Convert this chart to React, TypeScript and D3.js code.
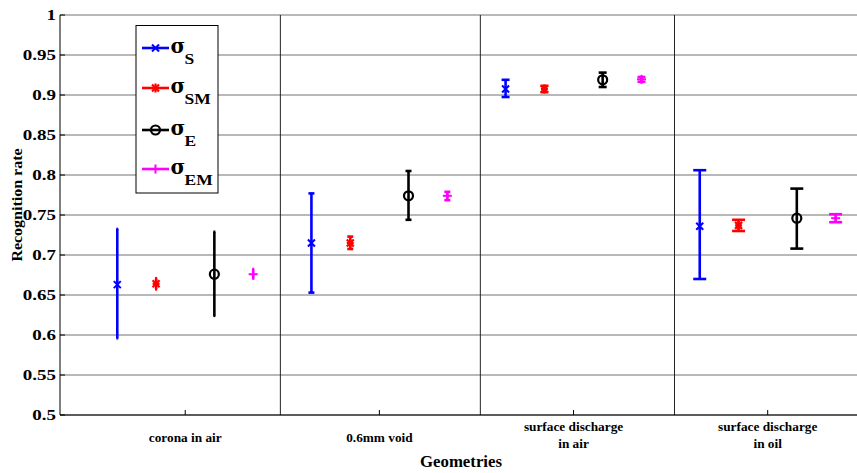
import React from "react";
import * as d3 from "d3";

const categories = ["corona in air", "0.6mm void", "surface discharge\nin air", "surface discharge\nin oil"];
const yTicks = [0.5, 0.55, 0.6, 0.65, 0.7, 0.75, 0.8, 0.85, 0.9, 0.95, 1];
const separators = [1.49, 2.52, 3.52];

const seriesNames = ["S", "SM", "E", "EM"];
const sMean = [0.663, 0.715, 0.9075, 0.736];
const sLow = [0.596, 0.653, 0.8975, 0.67];
const sHigh = [0.7325, 0.777, 0.919, 0.806];
const smMean = [0.664, 0.715, 0.9075, 0.737];
const smLow = [0.657, 0.7075, 0.9035, 0.73];
const smHigh = [0.671, 0.723, 0.9115, 0.744];
const eMean = [0.676, 0.774, 0.919, 0.746];
const eLow = [0.624, 0.744, 0.91, 0.708];
const eHigh = [0.729, 0.805, 0.928, 0.783];
const emMean = [0.676, 0.774, 0.9196, 0.746];
const emLow = [0.6705, 0.7685, 0.9165, 0.741];
const emHigh = [0.6825, 0.779, 0.9225, 0.751];

const offsets = [-0.35, -0.15, 0.15, 0.35];
const colors = ["#0000ff", "#ff0000", "#000000", "#ff00ff"];
const capWidths = [1, 3, 4, 6.5];

const series = [
  { mean: sMean, low: sLow, high: sHigh },
  { mean: smMean, low: smLow, high: smHigh },
  { mean: eMean, low: eLow, high: eHigh },
  { mean: emMean, low: emLow, high: emHigh },
];

const W = 857;
const H = 473;
const FONT = "'Liberation Serif', 'Times New Roman', serif";

function T({
  x,
  y,
  size,
  sy = 1,
  anchor = "start",
  rotate = 0,
  family,
  children,
}: {
  x: number;
  y: number;
  size: number;
  sy?: number;
  anchor?: string;
  rotate?: number;
  family?: string;
  children: React.ReactNode;
}) {
  const tr = rotate
    ? `translate(${x},${y}) rotate(${rotate}) scale(1,${sy})`
    : `translate(${x},${y}) scale(1,${sy})`;
  return (
    <text
      transform={tr}
      textAnchor={anchor as any}
      fontSize={size}
      fontWeight="bold"
      fill="#000"
      fontFamily={family}
    >
      {children}
    </text>
  );
}

function Marker({ kind, x, y, color }: { kind: number; x: number; y: number; color: string }) {
  const r = 3.5;
  if (kind === 0) {
    return (
      <g stroke={color} strokeWidth={2}>
        <line x1={x - r} y1={y - r} x2={x + r} y2={y + r} />
        <line x1={x - r} y1={y + r} x2={x + r} y2={y - r} />
      </g>
    );
  }
  if (kind === 1) {
    return (
      <g stroke={color} strokeWidth={2.2}>
        <line x1={x - r} y1={y} x2={x + r} y2={y} />
        <line x1={x} y1={y - r - 1} x2={x} y2={y + r + 1} />
        <line x1={x - r} y1={y - r} x2={x + r} y2={y + r} />
        <line x1={x - r} y1={y + r} x2={x + r} y2={y - r} />
      </g>
    );
  }
  if (kind === 2) {
    return <circle cx={x} cy={y} r={4.5} fill="none" stroke={color} strokeWidth={2.2} />;
  }
  return (
    <g stroke={color} strokeWidth={2}>
      <line x1={x - 4.5} y1={y} x2={x + 4.5} y2={y} />
      <line x1={x} y1={y - 4.5} x2={x} y2={y + 4.5} />
    </g>
  );
}

export default function App() {
  const x = d3.scaleLinear().domain([0.355, 4.46]).range([60, 857]);
  const y = d3.scaleLinear().domain([0.5, 1]).range([415, 15]);
  const left = 60;
  const right = 857;
  const top = 15;
  const bottom = 415;

  const legendEntriesY = [48, 88, 130, 169];

  return (
    <div style={{ position: "absolute", left: 0, top: 0 }}>
      <svg width={W} height={H} style={{ display: "block", background: "#fff" }} fontFamily={FONT}>
        <rect x={0} y={0} width={W} height={H} fill="#fff" />
        {yTicks.map((t) => (
          <line key={"g" + t} x1={left} x2={right} y1={y(t)} y2={y(t)} stroke="#a0a0a0" strokeWidth={1.3} />
        ))}
        {separators.map((s) => (
          <line key={"s" + s} x1={x(s)} x2={x(s)} y1={top} y2={bottom} stroke="#222" strokeWidth={1} />
        ))}
        <line x1={left} x2={left} y1={top} y2={bottom} stroke="#000" strokeWidth={1} />
        <line x1={left} x2={right} y1={bottom} y2={bottom} stroke="#000" strokeWidth={1} />
        {yTicks.map((t) => (
          <g key={"yt" + t}>
            <line x1={left} x2={left + 5} y1={y(t)} y2={y(t)} stroke="#000" strokeWidth={1} />
            <T x={left - 4} y={y(t) + 5} size={19} sy={0.8} anchor="end">
              {String(t)}
            </T>
          </g>
        ))}
        {categories.map((c, i) => {
          const lines = c.split("\n");
          const cx = x(i + 1);
          return (
            <g key={"xt" + i}>
              <line x1={cx} x2={cx} y1={bottom} y2={bottom - 5} stroke="#000" strokeWidth={1} />
              {lines.map((ln, j) => (
                <T key={j} x={cx} y={lines.length === 1 ? 442 : 431 + j * 17} size={13.3} sy={0.98} anchor="middle">
                  {ln}
                </T>
              ))}
            </g>
          );
        })}
        <T x={461} y={467} size={16.8} anchor="middle">
          Geometries
        </T>
        <T x={22} y={205} size={16} sy={0.95} anchor="middle" rotate={-90}>
          Recognition rate
        </T>
        {series.map((s, k) =>
          s.mean.map((m, i) => {
            const cx = x(i + 1 + offsets[k]);
            const cw = capWidths[i];
            return (
              <g key={`e${k}-${i}`} stroke={colors[k]}>
                <line x1={cx} x2={cx} y1={y(s.low[i])} y2={y(s.high[i])} strokeWidth={2.6} />
                <line x1={cx - cw} x2={cx + cw} y1={y(s.low[i])} y2={y(s.low[i])} strokeWidth={2.6} />
                <line x1={cx - cw} x2={cx + cw} y1={y(s.high[i])} y2={y(s.high[i])} strokeWidth={2.6} />
                <Marker kind={k} x={cx} y={y(m)} color={colors[k]} />
              </g>
            );
          })
        )}
        <rect x={136} y={25.5} width={82} height={167.5} fill="#fff" stroke="#000" strokeWidth={1} />
        {seriesNames.map((n, k) => {
          const ly = legendEntriesY[k];
          return (
            <g key={"l" + n}>
              <line x1={142} x2={169} y1={ly} y2={ly} stroke={colors[k]} strokeWidth={2.6} />
              <Marker kind={k} x={155.5} y={ly} color={colors[k]} />
              <T x={170.5} y={ly + 4.5} size={20} family="'DejaVu Serif', serif">
                σ
              </T>
              <T x={184.5} y={ly + 16} size={17.5} sy={0.85}>
                {n}
              </T>
            </g>
          );
        })}
      </svg>
    </div>
  );
}
